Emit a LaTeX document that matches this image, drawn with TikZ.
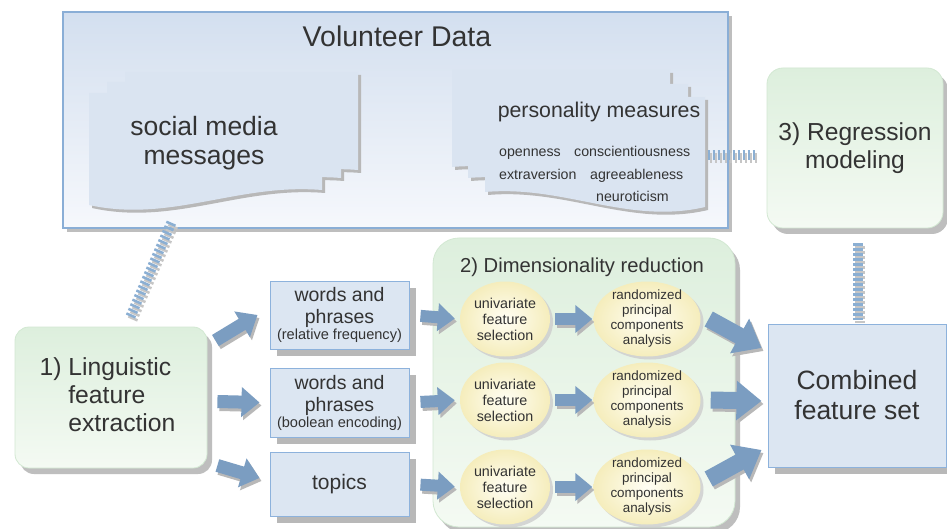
\documentclass[tikz,border=0pt]{standalone}
\usepackage{fontspec}
\setmainfont{Liberation Sans}
\usetikzlibrary{arrows.meta,shadows,shapes.geometric}

\definecolor{txt}{HTML}{333333}
\definecolor{volA}{HTML}{D3DFEF}
\definecolor{volB}{HTML}{F6F8FC}
\definecolor{voldraw}{HTML}{8AAED6}
\definecolor{boxfill}{HTML}{DCE6F2}
\definecolor{boxdraw}{HTML}{8DB2DC}
\definecolor{docfill}{HTML}{DAE4F1}
\definecolor{grnA}{HTML}{DDEFDD}
\definecolor{grnB}{HTML}{F4FAF3}
\definecolor{grndraw}{HTML}{D2E8D2}
\definecolor{arrowc}{HTML}{7B9DC1}
\definecolor{stripec}{HTML}{8BAFD3}
\definecolor{shadowc}{HTML}{B8B8B8}
\definecolor{ellA}{HTML}{FFFEF4}
\definecolor{ellB}{HTML}{F5EDBC}

\tikzset{
  every node/.style={text=txt},
  volbox/.style={rectangle, draw=voldraw, line width=1.2pt, top color=volA, bottom color=volB,
    drop shadow={shadow xshift=4pt, shadow yshift=-4pt, fill=shadowc, opacity=.9}},
  grnbox/.style={rectangle, rounded corners=14pt, draw=grndraw, line width=0.8pt, top color=grnA, bottom color=grnB,
    drop shadow={shadow xshift=5pt, shadow yshift=-6pt, fill=shadowc, opacity=.9}},
  featbox/.style={rectangle, draw=boxdraw, line width=1pt, fill=boxfill, inner sep=1pt, align=center,
    drop shadow={shadow xshift=7pt, shadow yshift=-7pt, fill=shadowc, opacity=1}},
  ellbox/.style={ellipse, inner sep=0pt, minimum height=75pt, inner color=ellA, outer color=ellB,
    drop shadow={shadow xshift=3pt, shadow yshift=-3pt, fill=shadowc!70, opacity=.8}},
  elltext/.style={inner sep=0pt, align=center, font=\fontsize{14.3}{16}\selectfont},
  pcatext/.style={inner sep=0pt, align=center, font=\fontsize{13.4}{15}\selectfont},
  docshadow/.style={fill=shadowc, transform canvas={xshift=3pt,yshift=-3pt}},
  docpage/.style={fill=docfill},
  pmtext/.style={inner sep=0pt, anchor=base west, font=\fontsize{14.2}{16}\selectfont},
  fatsm/.style={draw=arrowc, line width=12pt, -{Triangle[length=17pt,width=27pt]}},
  fatling/.style={draw=arrowc, line width=13pt, -{Triangle[length=18pt,width=29pt]}},
  fatbig/.style={draw=arrowc, line width=17pt, -{Triangle[length=25pt,width=38pt]}},
  shcopy/.style={draw=shadowc, transform canvas={xshift=2pt,yshift=-3pt}},
  stripe/.style={draw=stripec, line width=10pt, dash pattern=on 2.5pt off 2.5pt},
}
\newcommand{\fatarr}[3]{\draw[#1,shcopy] #2 -- #3; \draw[#1] #2 -- #3;}
\newcommand{\stripelink}[2]{\draw[stripe,shcopy,draw=shadowc!80] #1 -- #2; \draw[stripe] #1 -- #2;}
% document page, wave lower at the left
\newcommand{\docpgL}[5]{\path[#1] (#2,#3) -- (#4,#3) -- (#4,#5) .. controls ({#4-0.36*(#4-#2)},{#5-7}) and ({#2+0.35*(#4-#2)},{#5+33}) .. (#2,{#5+15}) -- cycle;}
% document page, wave lower at the right
\newcommand{\docpgR}[5]{\path[#1] (#2,#3) -- (#4,#3) -- (#4,{#5+15}) .. controls ({#4-0.35*(#4-#2)},{#5+33}) and ({#2+0.36*(#4-#2)},{#5-7}) .. (#2,#5) -- cycle;}

\begin{document}
\begin{tikzpicture}[x=1pt,y=-1pt]
\useasboundingbox (0,0) rectangle (947,529);
\fill[white] (0,0) rectangle (947,529);

% Volunteer data container
\node[volbox, minimum width=665pt, minimum height=216pt] (vol) at (395.5,120) {};
\node[inner sep=0pt, anchor=base, font=\fontsize{28.5}{32}\selectfont] (voltitle) at (397,47) {Volunteer Data};

% social media messages (stacked pages)
\foreach \st in {docshadow,docpage}{
  \docpgL{\st}{125}{72}{358}{170}
  \docpgL{\st}{107}{82}{341}{178}
  \docpgL{\st}{89}{93}{322}{190}
}
\node[inner sep=0pt, align=center, font=\fontsize{26.5}{29.5}\selectfont] (smm) at (204,143) {social media\\messages};

% personality measures (stacked pages)
\foreach \st in {docshadow,docpage}{
  \docpgR{\st}{452}{70}{670}{167}
  \docpgR{\st}{468}{84}{688}{178}
  \docpgR{\st}{485}{97}{705}{192}
}
\node[inner sep=0pt, anchor=base, font=\fontsize{21.3}{24}\selectfont] (pm) at (599,118) {personality measures};
\node[pmtext] (pmA) at (499,157) {openness};
\node[pmtext] (pmB) at (574,157) {conscientiousness};
\node[pmtext] (pmC) at (499,180) {extraversion};
\node[pmtext] (pmD) at (590,180) {agreeableness};
\node[pmtext] (pmE) at (596,202) {neuroticism};

% Regression modeling
\node[grnbox, rounded corners=16pt, minimum width=176pt, minimum height=160pt, align=center,
      font=\fontsize{24.6}{28}\selectfont] (reg) at (855,148) {3) Regression\\modeling};

% Linguistic feature extraction
\node[grnbox, minimum width=192pt, minimum height=141pt, align=left,
      font=\fontsize{24.7}{28}\selectfont] (ling) at (111,397.5) {1) Linguistic\\\phantom{1) }feature\\\phantom{1) }extraction\hspace*{7pt}};

% Dimensionality reduction
\node[grnbox, rounded corners=26pt, minimum width=302pt, minimum height=289pt] (dim) at (584,382.5) {};
\node[inner sep=0pt, anchor=base, font=\fontsize{20.2}{24}\selectfont] (dimt) at (582,272.5) {2) Dimensionality reduction};

% feature boxes
\node[featbox, minimum width=139pt, minimum height=68pt, font=\fontsize{19.5}{22}\selectfont] (w1) at (339.5,315)
  {words and\\phrases\\[-6pt]{\fontsize{14.6}{16}\selectfont(relative frequency)}};
\node[featbox, minimum width=139pt, minimum height=69pt, font=\fontsize{19.5}{22}\selectfont] (w2) at (339.5,402.5)
  {words and\\phrases\\[-6pt]{\fontsize{14.6}{16}\selectfont(boolean encoding)}};
\node[featbox, minimum width=139pt, minimum height=64pt, font=\fontsize{21}{24}\selectfont] (w3) at (339.5,484) {topics};

% ellipses
\foreach \r/\y in {1/319,2/400,3/487}{
  \node[ellbox, minimum width=90pt] (u\r) at (505,\y) {};
  \node[elltext] (u\r t) at (u\r) {univariate\\feature\\selection};
  \node[ellbox, minimum width=107pt] (p\r) at (647,\y) {};
  \node[pcatext] (p\r t) at (p\r) {randomized\\principal\\components\\analysis};
}

% Combined feature set
\node[featbox, minimum width=178pt, minimum height=143pt, font=\fontsize{26.5}{30}\selectfont] (comb) at (857,395.5) {Combined\\feature set};

% striped connectors
\stripelink{([xshift=109pt,yshift=6pt]vol.south west)}{([xshift=19pt,yshift=9pt]ling.north)}
\stripelink{([xshift=-21pt,yshift=-35pt]vol.east)}{([xshift=-12pt,yshift=-7pt]reg.west)}
\stripelink{([xshift=3pt,yshift=-15pt]reg.south)}{([xshift=1pt,yshift=4pt]comb.north)}

% arrows from linguistic feature extraction
\fatarr{fatling}{([xshift=8pt,yshift=57pt]ling.east)}{([xshift=-12pt]w1.west)}
\fatarr{fatling}{([xshift=10pt,yshift=-4pt]ling.east)}{([xshift=-10pt]w2.west)}
\fatarr{fatling}{([xshift=10pt,yshift=-68pt]ling.east)}{([xshift=-10pt,yshift=6pt]w3.west)}

% arrows feature boxes -> univariate -> PCA
\foreach \r in {1,2,3}{
  \fatarr{fatsm,shorten <=11pt,shorten >=5pt}{(w\r.east)}{(u\r.west)}
  \fatarr{fatsm,shorten <=5pt,shorten >=1pt}{(u\r.east)}{(p\r.west)}
}

% arrows PCA -> combined
\fatarr{fatbig}{([xshift=8pt]p1.east)}{([xshift=-6pt,yshift=47.5pt]comb.west)}
\fatarr{fatbig}{([xshift=10pt]p2.east)}{([xshift=-6pt,yshift=-5.5pt]comb.west)}
\fatarr{fatbig}{([xshift=8pt,yshift=8pt]p3.east)}{([xshift=-6pt,yshift=-54.5pt]comb.west)}
\end{tikzpicture}
\end{document}
